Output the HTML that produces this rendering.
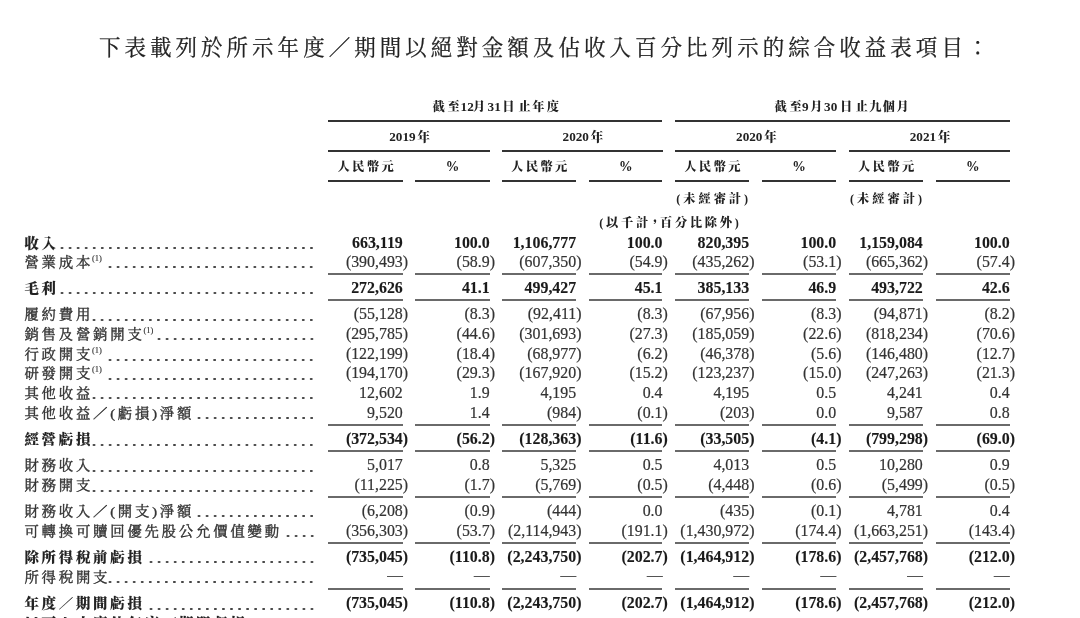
<!DOCTYPE html>
<html lang="zh-Hant"><head><meta charset="utf-8">
<style>
html,body{margin:0;padding:0;background:#fff;}
body{width:1080px;height:618px;overflow:hidden;position:relative;}
.t{position:absolute;white-space:nowrap;}
.title{left:98.9px;top:37.5px;font-family:"Liberation Serif","Noto Serif CJK TC","Noto Serif CJK SC",serif;font-size:21.5px;letter-spacing:4.03px;color:#222;line-height:1;-webkit-text-stroke:0.25px #222;}
.h{font-family:"Liberation Serif","Noto Serif CJK TC","Noto Serif CJK SC",serif;font-weight:900;font-size:12.2px;color:#222;line-height:14px;}
.h .c{letter-spacing:3px;}
.r{position:absolute;left:0;width:1080px;height:20px;line-height:20px;}
.lab{position:absolute;left:24.4px;top:0.0px;font-family:"Liberation Serif","Noto Serif CJK TC","Noto Serif CJK SC",serif;font-size:14.4px;letter-spacing:2.78px;color:#333;white-space:nowrap;transform:scaleY(0.92);transform-origin:0 15px;-webkit-text-stroke:0.4px #333;}
.b .lab{font-weight:900;color:#222;-webkit-text-stroke:0.1px #222;}
.lab sup{font-size:8.5px;letter-spacing:0;-webkit-text-stroke:0.15px #333;vertical-align:0;position:relative;top:-6.8px;margin-left:-1.2px;}
.lab .p{font-family:"Liberation Serif",serif;}
.n{position:absolute;top:0;font-family:"Liberation Serif",serif;font-size:15.9px;color:#333;text-align:right;white-space:nowrap;-webkit-text-stroke:0.2px #333;}
.b .n{font-weight:bold;color:#1a1a1a;-webkit-text-stroke:0.1px #1a1a1a;}
.rp{display:inline-block;width:0;}
.dots{position:absolute;height:4px;background-image:radial-gradient(circle at 50% 50%, #444 0.95px, rgba(68,68,68,0) 1.5px);background-size:8.06px 4px;background-repeat:repeat-x;}
.ln{position:absolute;background:#333;}
.l2{position:absolute;background:#6a6a6a;}
</style></head><body>
<div class="t title">下表載列於所示年度／期間以絕對金額及佔收入百分比列示的綜合收益表項目：</div>
<div class="t h" style="left:432.4px;top:99.5px"><span style="display:inline-block;width:15.00px">截</span><span style="display:inline-block;width:13.20px">至</span><span style="display:inline-block;font-size:13.2px;width:12.40px">12</span><span style="display:inline-block;width:14.60px">月</span><span style="display:inline-block;font-size:13.2px;width:14.80px">31</span><span style="display:inline-block;width:16.25px">日</span><span style="display:inline-block;width:13.75px">止</span><span style="display:inline-block;width:14.40px">年</span><span style="">度</span></div>
<div class="t h" style="left:774.6px;top:99.5px"><span style="display:inline-block;width:14.90px">截</span><span style="display:inline-block;width:12.60px">至</span><span style="display:inline-block;font-size:13.2px;width:8.20px">9</span><span style="display:inline-block;width:13.80px">月</span><span style="display:inline-block;font-size:13.2px;width:16.00px">30</span><span style="display:inline-block;width:15.60px">日</span><span style="display:inline-block;width:13.60px">止</span><span style="display:inline-block;width:13.60px">九</span><span style="display:inline-block;width:13.60px">個</span><span style="">月</span></div>
<div class="t h" style="left:259.6px;width:300px;text-align:center;top:129.8px"><span style="font-size:13.2px">2019</span><span style="margin-left:1.5px;font-size:12.8px">年</span></div>
<div class="t h" style="left:432.9px;width:300px;text-align:center;top:129.8px"><span style="font-size:13.2px">2020</span><span style="margin-left:1.5px;font-size:12.8px">年</span></div>
<div class="t h" style="left:606.4px;width:300px;text-align:center;top:129.8px"><span style="font-size:13.2px">2020</span><span style="margin-left:1.5px;font-size:12.8px">年</span></div>
<div class="t h" style="left:780.1px;width:300px;text-align:center;top:129.8px"><span style="font-size:13.2px">2021</span><span style="margin-left:1.5px;font-size:12.8px">年</span></div>
<div class="t h" style="left:315.7px;width:100px;text-align:center;top:160.3px"><span class=c style="letter-spacing:2.4px">人民幣</span>元</div>
<div class="t h" style="left:402.5px;width:100px;text-align:center;top:159.6px"><span style="font-size:13.6px">%</span></div>
<div class="t h" style="left:489.3px;width:100px;text-align:center;top:160.3px"><span class=c style="letter-spacing:2.4px">人民幣</span>元</div>
<div class="t h" style="left:575.9px;width:100px;text-align:center;top:159.6px"><span style="font-size:13.6px">%</span></div>
<div class="t h" style="left:662.5px;width:100px;text-align:center;top:160.3px"><span class=c style="letter-spacing:2.4px">人民幣</span>元</div>
<div class="t h" style="left:749.1px;width:100px;text-align:center;top:159.6px"><span style="font-size:13.6px">%</span></div>
<div class="t h" style="left:836.2px;width:100px;text-align:center;top:160.3px"><span class=c style="letter-spacing:2.4px">人民幣</span>元</div>
<div class="t h" style="left:922.8px;width:100px;text-align:center;top:159.6px"><span style="font-size:13.6px">%</span></div>
<div class="t h" style="left:652.2px;width:120px;text-align:center;top:191.6px"><span class=c>(未經審計</span>)</div>
<div class="t h" style="left:826.0px;width:120px;text-align:center;top:191.6px"><span class=c>(未經審計</span>)</div>
<div class="t h" style="left:519.0px;width:300px;text-align:center;top:216.0px"><span class=c style="letter-spacing:2.75px">(以千計</span><span style="letter-spacing:0px;margin-left:-2px;margin-right:-1px">，</span><span class=c style="letter-spacing:2.75px">百分比除外</span>)</div>
<div class="ln" style="left:328.2px;width:334.3px;top:119.8px;height:2.2px"></div>
<div class="ln" style="left:675.3px;width:334.4px;top:119.8px;height:2.2px"></div>
<div class="ln" style="left:328.2px;width:161.5px;top:150.2px;height:2.2px"></div>
<div class="ln" style="left:502.0px;width:160.5px;top:150.2px;height:2.2px"></div>
<div class="ln" style="left:675.3px;width:160.9px;top:150.2px;height:2.2px"></div>
<div class="ln" style="left:849.2px;width:160.5px;top:150.2px;height:2.2px"></div>
<div class="ln" style="left:328.2px;width:74.6px;top:180.3px;height:2.2px"></div>
<div class="ln" style="left:415.3px;width:74.4px;top:180.3px;height:2.2px"></div>
<div class="ln" style="left:502.0px;width:74.2px;top:180.3px;height:2.2px"></div>
<div class="ln" style="left:589.2px;width:73.3px;top:180.3px;height:2.2px"></div>
<div class="ln" style="left:675.3px;width:73.9px;top:180.3px;height:2.2px"></div>
<div class="ln" style="left:762.0px;width:74.2px;top:180.3px;height:2.2px"></div>
<div class="ln" style="left:849.2px;width:73.6px;top:180.3px;height:2.2px"></div>
<div class="ln" style="left:935.8px;width:73.9px;top:180.3px;height:2.2px"></div>
<div class="l2" style="left:328.2px;width:74.6px;top:273.0px;height:2px"></div>
<div class="l2" style="left:415.3px;width:74.4px;top:273.0px;height:2px"></div>
<div class="l2" style="left:502.0px;width:74.2px;top:273.0px;height:2px"></div>
<div class="l2" style="left:589.2px;width:73.3px;top:273.0px;height:2px"></div>
<div class="l2" style="left:675.3px;width:73.9px;top:273.0px;height:2px"></div>
<div class="l2" style="left:762.0px;width:74.2px;top:273.0px;height:2px"></div>
<div class="l2" style="left:849.2px;width:73.6px;top:273.0px;height:2px"></div>
<div class="l2" style="left:935.8px;width:73.9px;top:273.0px;height:2px"></div>
<div class="l2" style="left:328.2px;width:74.6px;top:299.0px;height:2px"></div>
<div class="l2" style="left:415.3px;width:74.4px;top:299.0px;height:2px"></div>
<div class="l2" style="left:502.0px;width:74.2px;top:299.0px;height:2px"></div>
<div class="l2" style="left:589.2px;width:73.3px;top:299.0px;height:2px"></div>
<div class="l2" style="left:675.3px;width:73.9px;top:299.0px;height:2px"></div>
<div class="l2" style="left:762.0px;width:74.2px;top:299.0px;height:2px"></div>
<div class="l2" style="left:849.2px;width:73.6px;top:299.0px;height:2px"></div>
<div class="l2" style="left:935.8px;width:73.9px;top:299.0px;height:2px"></div>
<div class="l2" style="left:328.2px;width:74.6px;top:424.0px;height:2px"></div>
<div class="l2" style="left:415.3px;width:74.4px;top:424.0px;height:2px"></div>
<div class="l2" style="left:502.0px;width:74.2px;top:424.0px;height:2px"></div>
<div class="l2" style="left:589.2px;width:73.3px;top:424.0px;height:2px"></div>
<div class="l2" style="left:675.3px;width:73.9px;top:424.0px;height:2px"></div>
<div class="l2" style="left:762.0px;width:74.2px;top:424.0px;height:2px"></div>
<div class="l2" style="left:849.2px;width:73.6px;top:424.0px;height:2px"></div>
<div class="l2" style="left:935.8px;width:73.9px;top:424.0px;height:2px"></div>
<div class="l2" style="left:328.2px;width:74.6px;top:450.0px;height:2px"></div>
<div class="l2" style="left:415.3px;width:74.4px;top:450.0px;height:2px"></div>
<div class="l2" style="left:502.0px;width:74.2px;top:450.0px;height:2px"></div>
<div class="l2" style="left:589.2px;width:73.3px;top:450.0px;height:2px"></div>
<div class="l2" style="left:675.3px;width:73.9px;top:450.0px;height:2px"></div>
<div class="l2" style="left:762.0px;width:74.2px;top:450.0px;height:2px"></div>
<div class="l2" style="left:849.2px;width:73.6px;top:450.0px;height:2px"></div>
<div class="l2" style="left:935.8px;width:73.9px;top:450.0px;height:2px"></div>
<div class="l2" style="left:328.2px;width:74.6px;top:496.0px;height:2px"></div>
<div class="l2" style="left:415.3px;width:74.4px;top:496.0px;height:2px"></div>
<div class="l2" style="left:502.0px;width:74.2px;top:496.0px;height:2px"></div>
<div class="l2" style="left:589.2px;width:73.3px;top:496.0px;height:2px"></div>
<div class="l2" style="left:675.3px;width:73.9px;top:496.0px;height:2px"></div>
<div class="l2" style="left:762.0px;width:74.2px;top:496.0px;height:2px"></div>
<div class="l2" style="left:849.2px;width:73.6px;top:496.0px;height:2px"></div>
<div class="l2" style="left:935.8px;width:73.9px;top:496.0px;height:2px"></div>
<div class="l2" style="left:328.2px;width:74.6px;top:542.0px;height:2px"></div>
<div class="l2" style="left:415.3px;width:74.4px;top:542.0px;height:2px"></div>
<div class="l2" style="left:502.0px;width:74.2px;top:542.0px;height:2px"></div>
<div class="l2" style="left:589.2px;width:73.3px;top:542.0px;height:2px"></div>
<div class="l2" style="left:675.3px;width:73.9px;top:542.0px;height:2px"></div>
<div class="l2" style="left:762.0px;width:74.2px;top:542.0px;height:2px"></div>
<div class="l2" style="left:849.2px;width:73.6px;top:542.0px;height:2px"></div>
<div class="l2" style="left:935.8px;width:73.9px;top:542.0px;height:2px"></div>
<div class="l2" style="left:328.2px;width:74.6px;top:588.0px;height:2px"></div>
<div class="l2" style="left:415.3px;width:74.4px;top:588.0px;height:2px"></div>
<div class="l2" style="left:502.0px;width:74.2px;top:588.0px;height:2px"></div>
<div class="l2" style="left:589.2px;width:73.3px;top:588.0px;height:2px"></div>
<div class="l2" style="left:675.3px;width:73.9px;top:588.0px;height:2px"></div>
<div class="l2" style="left:762.0px;width:74.2px;top:588.0px;height:2px"></div>
<div class="l2" style="left:849.2px;width:73.6px;top:588.0px;height:2px"></div>
<div class="l2" style="left:935.8px;width:73.9px;top:588.0px;height:2px"></div>
<div class="r b" style="top:232.5px"><div class="lab">收入</div><div class="dots" style="left:57.87px;width:257.92px;top:13.5px"></div><div class="n" style="right:677.2px">663,119</div><div class="n" style="right:590.3px">100.0</div><div class="n" style="right:503.8px">1,106,777</div><div class="n" style="right:417.5px">100.0</div><div class="n" style="right:330.8px">820,395</div><div class="n" style="right:243.8px">100.0</div><div class="n" style="right:157.2px">1,159,084</div><div class="n" style="right:70.3px">100.0</div></div>
<div class="r" style="top:251.9px"><div class="lab">營業成本<sup>(1)</sup></div><div class="dots" style="left:106.23px;width:209.56px;top:13.5px"></div><div class="n" style="right:677.2px">(390,493<span class=rp>)</span></div><div class="n" style="right:590.3px">(58.9<span class=rp>)</span></div><div class="n" style="right:503.8px">(607,350<span class=rp>)</span></div><div class="n" style="right:417.5px">(54.9<span class=rp>)</span></div><div class="n" style="right:330.8px">(435,262<span class=rp>)</span></div><div class="n" style="right:243.8px">(53.1<span class=rp>)</span></div><div class="n" style="right:157.2px">(665,362<span class=rp>)</span></div><div class="n" style="right:70.3px">(57.4<span class=rp>)</span></div></div>
<div class="r b" style="top:277.9px"><div class="lab">毛利</div><div class="dots" style="left:57.87px;width:257.92px;top:13.5px"></div><div class="n" style="right:677.2px">272,626</div><div class="n" style="right:590.3px">41.1</div><div class="n" style="right:503.8px">499,427</div><div class="n" style="right:417.5px">45.1</div><div class="n" style="right:330.8px">385,133</div><div class="n" style="right:243.8px">46.9</div><div class="n" style="right:157.2px">493,722</div><div class="n" style="right:70.3px">42.6</div></div>
<div class="r" style="top:304.1px"><div class="lab">履約費用</div><div class="dots" style="left:90.11px;width:225.68px;top:13.5px"></div><div class="n" style="right:677.2px">(55,128<span class=rp>)</span></div><div class="n" style="right:590.3px">(8.3<span class=rp>)</span></div><div class="n" style="right:503.8px">(92,411<span class=rp>)</span></div><div class="n" style="right:417.5px">(8.3<span class=rp>)</span></div><div class="n" style="right:330.8px">(67,956<span class=rp>)</span></div><div class="n" style="right:243.8px">(8.3<span class=rp>)</span></div><div class="n" style="right:157.2px">(94,871<span class=rp>)</span></div><div class="n" style="right:70.3px">(8.2<span class=rp>)</span></div></div>
<div class="r" style="top:323.8px"><div class="lab">銷售及營銷開支<sup>(1)</sup></div><div class="dots" style="left:154.59px;width:161.20px;top:13.5px"></div><div class="n" style="right:677.2px">(295,785<span class=rp>)</span></div><div class="n" style="right:590.3px">(44.6<span class=rp>)</span></div><div class="n" style="right:503.8px">(301,693<span class=rp>)</span></div><div class="n" style="right:417.5px">(27.3<span class=rp>)</span></div><div class="n" style="right:330.8px">(185,059<span class=rp>)</span></div><div class="n" style="right:243.8px">(22.6<span class=rp>)</span></div><div class="n" style="right:157.2px">(818,234<span class=rp>)</span></div><div class="n" style="right:70.3px">(70.6<span class=rp>)</span></div></div>
<div class="r" style="top:344.0px"><div class="lab">行政開支<sup>(1)</sup></div><div class="dots" style="left:106.23px;width:209.56px;top:13.5px"></div><div class="n" style="right:677.2px">(122,199<span class=rp>)</span></div><div class="n" style="right:590.3px">(18.4<span class=rp>)</span></div><div class="n" style="right:503.8px">(68,977<span class=rp>)</span></div><div class="n" style="right:417.5px">(6.2<span class=rp>)</span></div><div class="n" style="right:330.8px">(46,378<span class=rp>)</span></div><div class="n" style="right:243.8px">(5.6<span class=rp>)</span></div><div class="n" style="right:157.2px">(146,480<span class=rp>)</span></div><div class="n" style="right:70.3px">(12.7<span class=rp>)</span></div></div>
<div class="r" style="top:363.4px"><div class="lab">研發開支<sup>(1)</sup></div><div class="dots" style="left:106.23px;width:209.56px;top:13.5px"></div><div class="n" style="right:677.2px">(194,170<span class=rp>)</span></div><div class="n" style="right:590.3px">(29.3<span class=rp>)</span></div><div class="n" style="right:503.8px">(167,920<span class=rp>)</span></div><div class="n" style="right:417.5px">(15.2<span class=rp>)</span></div><div class="n" style="right:330.8px">(123,237<span class=rp>)</span></div><div class="n" style="right:243.8px">(15.0<span class=rp>)</span></div><div class="n" style="right:157.2px">(247,263<span class=rp>)</span></div><div class="n" style="right:70.3px">(21.3<span class=rp>)</span></div></div>
<div class="r" style="top:382.8px"><div class="lab">其他收益</div><div class="dots" style="left:90.11px;width:225.68px;top:13.5px"></div><div class="n" style="right:677.2px">12,602</div><div class="n" style="right:590.3px">1.9</div><div class="n" style="right:503.8px">4,195</div><div class="n" style="right:417.5px">0.4</div><div class="n" style="right:330.8px">4,195</div><div class="n" style="right:243.8px">0.5</div><div class="n" style="right:157.2px">4,241</div><div class="n" style="right:70.3px">0.4</div></div>
<div class="r" style="top:402.6px"><div class="lab">其他收益／<span class=p>(</span>虧損<span class=p>)</span>淨額</div><div class="dots" style="left:194.89px;width:120.90px;top:13.5px"></div><div class="n" style="right:677.2px">9,520</div><div class="n" style="right:590.3px">1.4</div><div class="n" style="right:503.8px">(984<span class=rp>)</span></div><div class="n" style="right:417.5px">(0.1<span class=rp>)</span></div><div class="n" style="right:330.8px">(203<span class=rp>)</span></div><div class="n" style="right:243.8px">0.0</div><div class="n" style="right:157.2px">9,587</div><div class="n" style="right:70.3px">0.8</div></div>
<div class="r b" style="top:429.4px"><div class="lab">經營虧損</div><div class="dots" style="left:90.11px;width:225.68px;top:13.5px"></div><div class="n" style="right:677.2px">(372,534<span class=rp>)</span></div><div class="n" style="right:590.3px">(56.2<span class=rp>)</span></div><div class="n" style="right:503.8px">(128,363<span class=rp>)</span></div><div class="n" style="right:417.5px">(11.6<span class=rp>)</span></div><div class="n" style="right:330.8px">(33,505<span class=rp>)</span></div><div class="n" style="right:243.8px">(4.1<span class=rp>)</span></div><div class="n" style="right:157.2px">(799,298<span class=rp>)</span></div><div class="n" style="right:70.3px">(69.0<span class=rp>)</span></div></div>
<div class="r" style="top:455.3px"><div class="lab">財務收入</div><div class="dots" style="left:90.11px;width:225.68px;top:13.5px"></div><div class="n" style="right:677.2px">5,017</div><div class="n" style="right:590.3px">0.8</div><div class="n" style="right:503.8px">5,325</div><div class="n" style="right:417.5px">0.5</div><div class="n" style="right:330.8px">4,013</div><div class="n" style="right:243.8px">0.5</div><div class="n" style="right:157.2px">10,280</div><div class="n" style="right:70.3px">0.9</div></div>
<div class="r" style="top:475.0px"><div class="lab">財務開支</div><div class="dots" style="left:90.11px;width:225.68px;top:13.5px"></div><div class="n" style="right:677.2px">(11,225<span class=rp>)</span></div><div class="n" style="right:590.3px">(1.7<span class=rp>)</span></div><div class="n" style="right:503.8px">(5,769<span class=rp>)</span></div><div class="n" style="right:417.5px">(0.5<span class=rp>)</span></div><div class="n" style="right:330.8px">(4,448<span class=rp>)</span></div><div class="n" style="right:243.8px">(0.6<span class=rp>)</span></div><div class="n" style="right:157.2px">(5,499<span class=rp>)</span></div><div class="n" style="right:70.3px">(0.5<span class=rp>)</span></div></div>
<div class="r" style="top:500.9px"><div class="lab">財務收入／<span class=p>(</span>開支<span class=p>)</span>淨額</div><div class="dots" style="left:194.89px;width:120.90px;top:13.5px"></div><div class="n" style="right:677.2px">(6,208<span class=rp>)</span></div><div class="n" style="right:590.3px">(0.9<span class=rp>)</span></div><div class="n" style="right:503.8px">(444<span class=rp>)</span></div><div class="n" style="right:417.5px">0.0</div><div class="n" style="right:330.8px">(435<span class=rp>)</span></div><div class="n" style="right:243.8px">(0.1<span class=rp>)</span></div><div class="n" style="right:157.2px">4,781</div><div class="n" style="right:70.3px">0.4</div></div>
<div class="r" style="top:520.5px"><div class="lab">可轉換可贖回優先股公允價值變動</div><div class="dots" style="left:283.55px;width:32.24px;top:13.5px"></div><div class="n" style="right:677.2px">(356,303<span class=rp>)</span></div><div class="n" style="right:590.3px">(53.7<span class=rp>)</span></div><div class="n" style="right:503.8px">(2,114,943<span class=rp>)</span></div><div class="n" style="right:417.5px">(191.1<span class=rp>)</span></div><div class="n" style="right:330.8px">(1,430,972<span class=rp>)</span></div><div class="n" style="right:243.8px">(174.4<span class=rp>)</span></div><div class="n" style="right:157.2px">(1,663,251<span class=rp>)</span></div><div class="n" style="right:70.3px">(143.4<span class=rp>)</span></div></div>
<div class="r b" style="top:546.7px"><div class="lab">除所得稅前虧損</div><div class="dots" style="left:146.53px;width:169.26px;top:13.5px"></div><div class="n" style="right:677.2px">(735,045<span class=rp>)</span></div><div class="n" style="right:590.3px">(110.8<span class=rp>)</span></div><div class="n" style="right:503.8px">(2,243,750<span class=rp>)</span></div><div class="n" style="right:417.5px">(202.7<span class=rp>)</span></div><div class="n" style="right:330.8px">(1,464,912<span class=rp>)</span></div><div class="n" style="right:243.8px">(178.6<span class=rp>)</span></div><div class="n" style="right:157.2px">(2,457,768<span class=rp>)</span></div><div class="n" style="right:70.3px">(212.0<span class=rp>)</span></div></div>
<div class="r" style="top:566.9px"><div class="lab">所得稅開支</div><div class="dots" style="left:106.23px;width:209.56px;top:13.5px"></div><div class="n" style="right:677.2px"><span style="font-size:15.6px;position:relative;top:-2.4px;color:#4a4a4a">—</span></div><div class="n" style="right:590.3px"><span style="font-size:15.6px;position:relative;top:-2.4px;color:#4a4a4a">—</span></div><div class="n" style="right:503.8px"><span style="font-size:15.6px;position:relative;top:-2.4px;color:#4a4a4a">—</span></div><div class="n" style="right:417.5px"><span style="font-size:15.6px;position:relative;top:-2.4px;color:#4a4a4a">—</span></div><div class="n" style="right:330.8px"><span style="font-size:15.6px;position:relative;top:-2.4px;color:#4a4a4a">—</span></div><div class="n" style="right:243.8px"><span style="font-size:15.6px;position:relative;top:-2.4px;color:#4a4a4a">—</span></div><div class="n" style="right:157.2px"><span style="font-size:15.6px;position:relative;top:-2.4px;color:#4a4a4a">—</span></div><div class="n" style="right:70.3px"><span style="font-size:15.6px;position:relative;top:-2.4px;color:#4a4a4a">—</span></div></div>
<div class="r b" style="top:593.1px"><div class="lab">年度／期間虧損</div><div class="dots" style="left:146.53px;width:169.26px;top:13.5px"></div><div class="n" style="right:677.2px">(735,045<span class=rp>)</span></div><div class="n" style="right:590.3px">(110.8<span class=rp>)</span></div><div class="n" style="right:503.8px">(2,243,750<span class=rp>)</span></div><div class="n" style="right:417.5px">(202.7<span class=rp>)</span></div><div class="n" style="right:330.8px">(1,464,912<span class=rp>)</span></div><div class="n" style="right:243.8px">(178.6<span class=rp>)</span></div><div class="n" style="right:157.2px">(2,457,768<span class=rp>)</span></div><div class="n" style="right:70.3px">(212.0<span class=rp>)</span></div></div>
<div class="r b" style="top:612.9px"><div class="lab">以下人士應佔年度／期間虧損：</div></div>
</body></html>
